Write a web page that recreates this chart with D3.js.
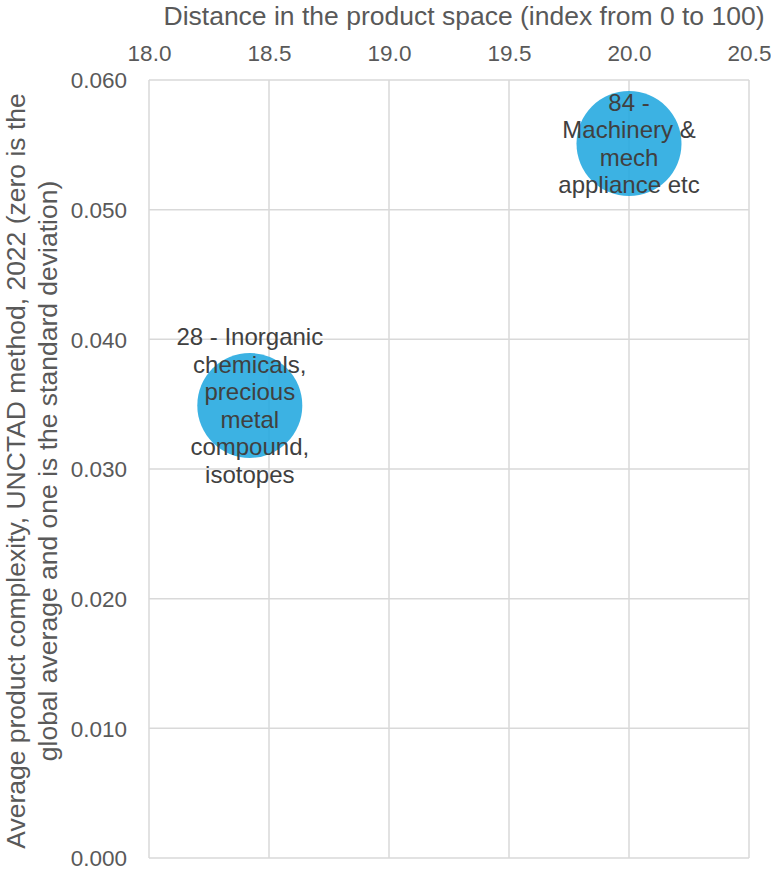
<!DOCTYPE html>
<html>
<head>
<meta charset="utf-8">
<script src="https://cdn.jsdelivr.net/npm/d3@7"></script>
<style>
  html, body { margin: 0; padding: 0; background: #fff; }
  svg { display: block; font-family: "Liberation Sans", Arial, sans-serif; }
</style>
</head>
<body>
<svg id="chart" width="771" height="874"></svg>
<script>
// Product chapters: distance in the product space vs. average product complexity
const chapterLabels = [
  ["28 - Inorganic", "chemicals,", "precious", "metal", "compound,", "isotopes"],
  ["84 -", "Machinery &", "mech", "appliance etc"]
];
const distanceValues = [18.42, 20.0];
const complexityValues = [0.0349, 0.0551];
const bubbleSizes = [1, 1];

const xTicks = [18.0, 18.5, 19.0, 19.5, 20.0, 20.5];
const yTicks = [0.000, 0.010, 0.020, 0.030, 0.040, 0.050, 0.060];

const xTitle = "Distance in the product space (index from 0 to 100)";
const yTitleLines = [
  "Average product complexity, UNCTAD method, 2022 (zero is the",
  "global average and one is the standard deviation)"
];

const svg = d3.select("#chart");
const plot = { left: 149, right: 749, top: 80, bottom: 858 };

const x = d3.scaleLinear().domain([18.0, 20.5]).range([plot.left, plot.right]);
const y = d3.scaleLinear().domain([0, 0.06]).range([plot.bottom, plot.top]);
const r = d3.scaleSqrt().domain([0, d3.max(bubbleSizes)]).range([0, 52.5]);

const gridColor = "#d9d9d9";
const axisText = "#595959";

// Gridlines
const grid = svg.append("g");
grid.selectAll("line.v").data(xTicks).join("line")
  .attr("x1", d => x(d)).attr("x2", d => x(d))
  .attr("y1", plot.top).attr("y2", plot.bottom)
  .attr("stroke", gridColor).attr("stroke-width", 1.5);
grid.selectAll("line.h").data(yTicks).join("line")
  .attr("x1", plot.left).attr("x2", plot.right)
  .attr("y1", d => y(d)).attr("y2", d => y(d))
  .attr("stroke", gridColor).attr("stroke-width", 1.5);

// Top x axis labels
const xAxis = d3.axisTop(x).tickValues(xTicks).tickFormat(d3.format(".1f")).tickSize(0).tickPadding(0);
const gx = svg.append("g").attr("transform", `translate(0,${plot.top})`).call(xAxis);
gx.select(".domain").remove();
gx.selectAll("text")
  .attr("y", 60.7 - plot.top).attr("dy", null)
  .attr("fill", axisText).style("font-size", "22.5px")
  .style("font-family", "'Liberation Sans', Arial, sans-serif");

// Left y axis labels
const yAxis = d3.axisLeft(y).tickValues(yTicks).tickFormat(d3.format(".3f")).tickSize(0).tickPadding(0);
const gy = svg.append("g").attr("transform", `translate(127,0)`).call(yAxis);
gy.select(".domain").remove();
gy.selectAll("text")
  .attr("x", 0).attr("dy", "0.35em")
  .attr("fill", axisText).style("font-size", "22.5px")
  .style("font-family", "'Liberation Sans', Arial, sans-serif");

// Axis titles
svg.append("text")
  .attr("x", 464).attr("y", 25)
  .attr("text-anchor", "middle")
  .attr("fill", axisText).style("font-size", "26.5px")
  .text(xTitle);

const yTitle = svg.append("text")
  .attr("transform", "translate(25,471) rotate(-90)")
  .attr("text-anchor", "middle")
  .attr("fill", axisText).style("font-size", "26.5px");
yTitle.selectAll("tspan").data(yTitleLines).join("tspan")
  .attr("x", 0).attr("y", (d, i) => i * 31.5)
  .text(d => d);

// Bubbles
const data = distanceValues.map((d, i) => ({
  x: d, y: complexityValues[i], size: bubbleSizes[i], label: chapterLabels[i]
}));

svg.append("g").selectAll("circle").data(data).join("circle")
  .attr("cx", d => x(d.x)).attr("cy", d => y(d.y)).attr("r", d => r(d.size))
  .attr("fill", "#27aae0").attr("fill-opacity", 0.9);

// Bubble labels, centred on each bubble
const lineH = 27.5;
const labels = svg.append("g").selectAll("text").data(data).join("text")
  .attr("text-anchor", "middle")
  .attr("fill", "#404040").style("font-size", "24px");
labels.each(function(d) {
  const n = d.label.length;
  d3.select(this).selectAll("tspan").data(d.label).join("tspan")
    .attr("x", x(d.x))
    .attr("y", (t, i) => y(d.y) + (i - (n - 1) / 2) * lineH + 8.5)
    .text(t => t);
});
</script>
</body>
</html>
